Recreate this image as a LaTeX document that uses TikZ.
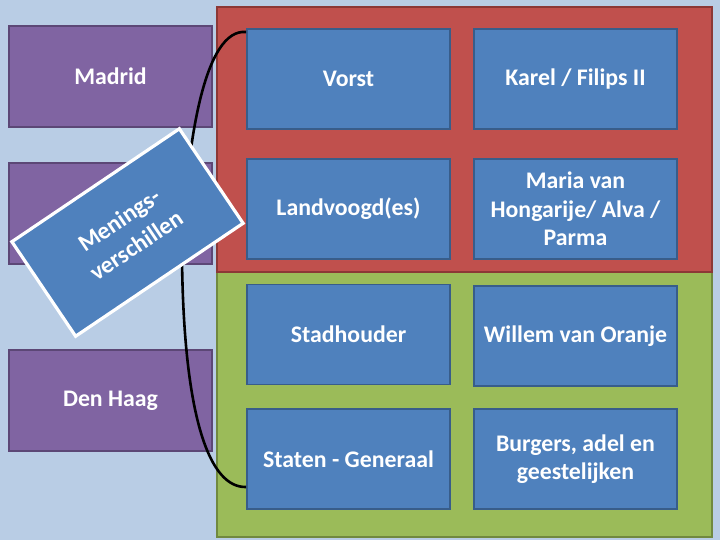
\documentclass[tikz,border=0pt]{standalone}
\usepackage{fontspec}
\setmainfont{Carlito}
\definecolor{bgblue}{HTML}{B9CDE5}
\definecolor{regred}{HTML}{C0504D}
\definecolor{regredD}{HTML}{8C3836}
\definecolor{reggreen}{HTML}{9BBB59}
\definecolor{reggreenD}{HTML}{71893F}
\definecolor{boxblue}{HTML}{4F81BD}
\definecolor{boxblueD}{HTML}{385D8A}
\definecolor{boxpurple}{HTML}{8064A2}
\definecolor{boxpurpleD}{HTML}{5C4776}
\tikzset{
  txt/.style={text=white, font=\fontsize{23.8}{28.5}\selectfont\bfseries, align=center},
  bluebox/.style={txt, draw=boxblueD, fill=boxblue, line width=1.8pt, minimum width=203pt, minimum height=100pt, inner sep=2pt},
  purplebox/.style={txt, draw=boxpurpleD, fill=boxpurple, line width=1.8pt, minimum width=203pt, minimum height=101pt, inner sep=2pt},
  region/.style={line width=1.8pt},
  link/.style={draw=black, line width=2.6pt},
}
\begin{document}
\begin{tikzpicture}[x=1pt,y=-1pt]
\useasboundingbox (0,0) rectangle (720,540);
\fill[bgblue] (0,0) rectangle (720,540);
% regions
\filldraw[region, fill=reggreen, draw=reggreenD] (217,272) rectangle (712,537);
\filldraw[region, fill=regred, draw=regredD] (217,7) rectangle (712,272);
% purple boxes
\node[purplebox] (madrid) at (110.5,76.5) {Madrid};
\node[purplebox] (mid) at (110.5,213.5) {};
\node[purplebox] (denhaag) at (110.5,400.5) {Den Haag};
% blue boxes
\node[bluebox] (vorst) at (348.5,79) {Vorst};
\node[bluebox] (karel) at (575.5,79) {Karel / Filips II};
\node[bluebox] (landvoogd) at (348.5,209) {Landvoogd(es)};
\node[bluebox] (maria) at (575.5,209) {Maria van\\Hongarije/ Alva /\\Parma};
\node[bluebox] (stadhouder) at (348.5,334.5) {Stadhouder};
\node[bluebox] (willem) at (575.5,336) {Willem van Oranje};
\node[bluebox] (staten) at (348.5,459) {Staten - Generaal};
\node[bluebox] (burgers) at (575.5,459) {Burgers, adel en\\geestelijken};
% connector
\draw[link] ([yshift=47pt]vorst.west) .. controls (205,28) and (186,140) .. (182,260)
  .. controls (184,420) and (210,488) .. ([yshift=-28pt]staten.west);
% rotated box
\node[txt, font=\fontsize{24}{30.5}\selectfont\bfseries, rotate=34, draw=white, fill=boxblue, line width=3.2pt, minimum width=202pt, minimum height=114pt] (menings) at (127.5,232.5) {Menings-\\verschillen};
\end{tikzpicture}
\end{document}
